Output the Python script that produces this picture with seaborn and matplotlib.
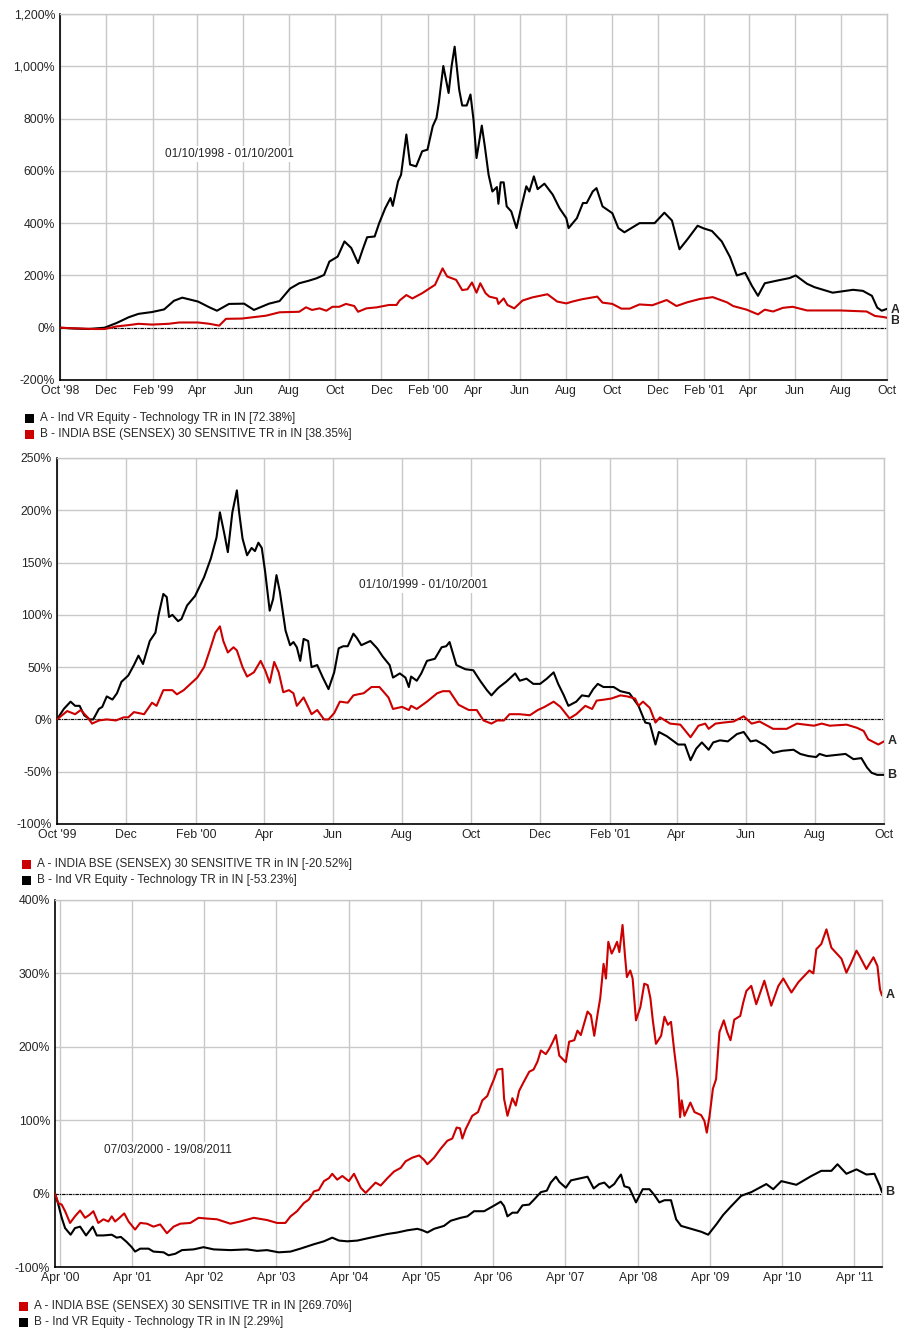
import pandas as pd
import matplotlib
matplotlib.use("Agg")
import matplotlib.pyplot as plt
from matplotlib.patches import Rectangle
from matplotlib.ticker import FuncFormatter
import seaborn as sns

RED = "#cc0000"
BLACK = "#000000"
GRID = "#c8c8c8"
W, H = 899, 1333

# ---------------- panel 1 : 01/10/1998 - 01/10/2001 ----------------
p1_tech_dates = [
    "1998-10-01", "1998-10-19", "1998-11-08", "1998-11-29", "1998-12-15", "1998-12-31", "1999-01-13", "1999-01-31", "1999-02-16", "1999-03-01",
    "1999-03-12", "1999-04-02", "1999-04-17", "1999-04-27", "1999-05-13", "1999-06-02", "1999-06-15", "1999-07-05", "1999-07-19", "1999-08-02",
    "1999-08-14", "1999-08-27", "1999-09-06", "1999-09-16", "1999-09-23", "1999-10-04", "1999-10-13", "1999-10-22", "1999-10-31", "1999-11-06",
    "1999-11-12", "1999-11-22", "1999-11-28", "1999-12-06", "1999-12-13", "1999-12-16", "1999-12-23", "1999-12-27", "2000-01-03", "2000-01-08",
    "2000-01-16", "2000-01-24", "2000-01-31", "2000-02-07", "2000-02-12", "2000-02-15", "2000-02-21", "2000-02-28", "2000-03-03", "2000-03-07",
    "2000-03-13", "2000-03-17", "2000-03-23", "2000-03-28", "2000-04-01", "2000-04-05", "2000-04-12", "2000-04-16", "2000-04-21", "2000-04-26",
    "2000-05-02", "2000-05-04", "2000-05-07", "2000-05-11", "2000-05-15", "2000-05-21", "2000-05-28", "2000-06-02", "2000-06-10", "2000-06-14",
    "2000-06-20", "2000-06-25", "2000-07-04", "2000-07-15", "2000-07-24", "2000-08-02", "2000-08-05", "2000-08-16", "2000-08-24", "2000-08-29",
    "2000-09-06", "2000-09-11", "2000-09-19", "2000-10-02", "2000-10-10", "2000-10-18", "2000-11-07", "2000-11-27", "2000-12-10", "2000-12-20",
    "2000-12-30", "2001-01-10", "2001-01-23", "2001-01-31", "2001-02-11", "2001-02-24", "2001-03-07", "2001-03-16", "2001-03-27", "2001-04-05",
    "2001-04-13", "2001-04-22", "2001-05-08", "2001-05-25", "2001-06-02", "2001-06-17", "2001-06-27", "2001-07-21", "2001-08-17", "2001-08-30",
    "2001-09-11", "2001-09-18", "2001-09-24", "2001-10-01"]
p1_tech = [
    0, -3, -5, 0, 18, 40, 53, 60, 70, 103,
    115, 100, 78, 65, 91, 92, 68, 92, 102, 150,
    170, 180, 189, 202, 253, 272, 330, 305, 247, 298,
    346, 349, 400, 457, 496, 466, 560, 585, 739, 624,
    617, 675, 681, 771, 803, 860, 1001, 898, 1001, 1075,
    911, 850, 850, 892, 796, 649, 773, 694, 585, 521,
    538, 474, 556, 556, 464, 445, 381, 445, 541, 521,
    579, 530, 551, 509, 457, 419, 381, 419, 477, 477,
    521, 534, 464, 438, 381, 365, 400, 400, 440, 410,
    300, 340, 390, 380, 370, 330, 270, 200, 210, 160,
    122, 170, 180, 190, 200, 168, 155, 134, 145, 141,
    122, 77, 65, 72]

p1_bse_dates = [
    "1998-10-01", "1998-10-26", "1998-11-15", "1998-11-29", "1998-12-15", "1998-12-31", "1999-01-13", "1999-01-31", "1999-02-22", "1999-03-08",
    "1999-04-02", "1999-04-17", "1999-04-30", "1999-05-09", "1999-05-30", "1999-07-01", "1999-07-19", "1999-08-14", "1999-08-23", "1999-08-31",
    "1999-09-10", "1999-09-19", "1999-09-27", "1999-10-06", "1999-10-15", "1999-10-26", "1999-10-31", "1999-11-11", "1999-11-25", "1999-12-11",
    "1999-12-21", "1999-12-25", "2000-01-03", "2000-01-11", "2000-01-24", "2000-02-03", "2000-02-10", "2000-02-20", "2000-02-26", "2000-03-09",
    "2000-03-17", "2000-03-24", "2000-03-30", "2000-04-05", "2000-04-10", "2000-04-17", "2000-04-22", "2000-05-02", "2000-05-04", "2000-05-11",
    "2000-05-16", "2000-05-25", "2000-06-05", "2000-06-18", "2000-07-08", "2000-07-21", "2000-08-02", "2000-08-10", "2000-08-23", "2000-09-12",
    "2000-09-19", "2000-10-02", "2000-10-14", "2000-10-25", "2000-11-07", "2000-11-24", "2000-12-13", "2000-12-26", "2001-01-09", "2001-01-26",
    "2001-02-12", "2001-03-03", "2001-03-11", "2001-03-29", "2001-04-13", "2001-04-22", "2001-05-03", "2001-05-16", "2001-05-29", "2001-06-17",
    "2001-07-31", "2001-09-04", "2001-09-15", "2001-09-26", "2001-10-01"]
p1_bse = [
    0, -3, -5, -5, 5, 10, 15, 12, 15, 20,
    20, 15, 8, 34, 35, 46, 59, 61, 78, 68,
    74, 65, 80, 80, 91, 83, 61, 74, 78, 87,
    87, 104, 125, 112, 132, 151, 164, 227, 196, 183,
    144, 147, 173, 134, 170, 132, 119, 112, 91, 112,
    87, 74, 104, 116, 128, 100, 93, 100, 109, 119,
    96, 91, 73, 73, 89, 86, 106, 83, 97, 110,
    117, 97, 83, 69, 51, 69, 62, 76, 80, 66,
    66, 62, 45, 41, 38]

p1_xticks = ["Oct '98", "Dec", "Feb '99", "Apr", "Jun", "Aug", "Oct", "Dec", "Feb '00", "Apr",
             "Jun", "Aug", "Oct", "Dec", "Feb '01", "Apr", "Jun", "Aug", "Oct"]
p1_yticks = [-200, 0, 200, 400, 600, 800, 1000, 1200]

# ---------------- panel 2 : 01/10/1999 - 01/10/2001 (days since start) ----------------
p2_bse_days = [
    0, 9, 16, 21, 27, 31, 37, 44, 52, 59,
    63, 68, 77, 84, 88, 94, 97, 102, 106, 112,
    118, 124, 130, 135, 140, 144, 147, 151, 156, 159,
    164, 168, 174, 180, 184, 188, 192, 196, 200, 205,
    209, 212, 218, 222, 225, 230, 236, 240, 245, 250,
    257, 262, 266, 271, 278, 285, 293, 297, 305, 311,
    313, 318, 327, 336, 341, 347, 355, 364, 371, 377,
    384, 389, 395, 400, 409, 418, 425, 431, 439, 445,
    453, 459, 467, 473, 477, 484, 490, 498, 504, 511,
    514, 518, 524, 529, 533, 542, 551, 560, 567, 573,
    576, 582, 589, 598, 607, 614, 621, 633, 645, 654,
    669, 676, 683, 698, 707, 713, 717, 726, 731]
p2_bse = [
    0, 8, 5, 9, 2, -4, -1, 0, -1, 2,
    2, 7, 5, 16, 13, 28, 28, 28, 24, 28,
    34, 40, 50, 66, 83, 89, 75, 64, 69, 66,
    50, 41, 45, 56, 47, 35, 55, 45, 26, 28,
    25, 13, 21, 12, 5, 9, 0, 0, 6, 17,
    16, 23, 24, 25, 31, 31, 21, 10, 12, 9,
    13, 10, 17, 25, 27, 27, 14, 9, 9, -1,
    -4, -1, -1, 5, 5, 4, 9, 12, 17, 12,
    1, 5, 13, 10, 18, 19, 20, 23, 22, 20,
    13, 17, 11, -3, 2, -4, -5, -17, -6, -4,
    -9, -4, -3, -2, 3, -4, -2, -9, -9, -4,
    -6, -4, -6, -5, -8, -11, -19, -24, -21]

p2_tech_days = [
    0, 6, 12, 16, 20, 24, 29, 32, 37, 40,
    44, 49, 53, 57, 63, 68, 72, 76, 82, 87,
    90, 94, 97, 99, 102, 107, 110, 115, 122, 130,
    136, 141, 144, 148, 151, 155, 159, 161, 164, 168,
    172, 175, 178, 181, 184, 188, 191, 194, 197, 202,
    206, 209, 212, 215, 218, 222, 225, 230, 235, 240,
    245, 249, 253, 257, 262, 265, 269, 277, 283, 288,
    294, 297, 303, 308, 311, 313, 318, 322, 327, 334,
    340, 344, 347, 353, 361, 368, 374, 380, 384, 389,
    391, 397, 405, 409, 415, 421, 427, 433, 439, 443,
    448, 452, 459, 464, 470, 474, 478, 483, 487, 492,
    498, 506, 514, 520, 524, 529, 532, 539, 549, 555,
    560, 565, 570, 576, 580, 586, 593, 601, 607, 613,
    618, 626, 633, 641, 651, 657, 664, 671, 674, 680,
    697, 704, 711, 716, 720, 725, 731]
p2_tech = [
    0, 10, 17, 13, 13, 4, 0, 0, 10, 12,
    22, 19, 25, 36, 42, 52, 61, 53, 75, 83,
    101, 120, 117, 98, 100, 94, 96, 109, 118, 136,
    154, 174, 198, 177, 160, 198, 219, 198, 173, 157,
    164, 161, 169, 164, 141, 104, 115, 138, 122, 85,
    71, 74, 69, 56, 77, 75, 50, 52, 40, 29,
    45, 68, 70, 70, 82, 78, 71, 75, 68, 60,
    52, 40, 44, 40, 31, 41, 37, 44, 56, 58,
    69, 70, 74, 52, 48, 47, 37, 28, 23, 29,
    31, 36, 44, 37, 39, 34, 34, 39, 45, 34,
    23, 13, 17, 23, 22, 29, 34, 31, 31, 31,
    27, 25, 13, -3, -4, -24, -12, -16, -24, -24,
    -39, -28, -22, -29, -22, -20, -21, -14, -12, -21,
    -20, -25, -32, -30, -29, -33, -35, -36, -33, -35,
    -33, -38, -37, -46, -51, -53, -53]

p2_xticks = ["Oct '99", "Dec", "Feb '00", "Apr", "Jun", "Aug", "Oct", "Dec", "Feb '01",
             "Apr", "Jun", "Aug", "Oct"]
p2_yticks = [-100, -50, 0, 50, 100, 150, 200, 250]

# ---------------- panel 3 : 07/03/2000 - 19/08/2011 (days since start) ----------------
p3_bse_days = [
    0, 17, 34, 51, 76, 101, 127, 152, 174, 194,
    219, 245, 270, 287, 304, 326, 350, 372, 405, 431,
    465, 498, 532, 566, 600, 633, 684, 726, 768, 819,
    887, 937, 1005, 1072, 1123, 1165, 1191, 1224, 1258, 1284,
    1309, 1334, 1360, 1385, 1402, 1427, 1453, 1486, 1512, 1546,
    1571, 1596, 1621, 1647, 1681, 1714, 1748, 1773, 1807, 1841,
    1866, 1883, 1917, 1950, 1984, 2009, 2031, 2048, 2060, 2077,
    2110, 2139, 2161, 2186, 2203, 2220, 2237, 2262, 2271, 2288,
    2313, 2330, 2347, 2372, 2398, 2420, 2440, 2457, 2482, 2499,
    2516, 2533, 2550, 2583, 2600, 2626, 2642, 2659, 2693, 2710,
    2727, 2744, 2757, 2774, 2786, 2798, 2815, 2828, 2842, 2854,
    2870, 2882, 2892, 2909, 2921, 2938, 2960, 2980, 2997, 3011,
    3023, 3039, 3065, 3082, 3099, 3115, 3132, 3149, 3161, 3169,
    3183, 3213, 3234, 3267, 3284, 3296, 3310, 3327, 3343, 3360,
    3382, 3399, 3416, 3435, 3465, 3480, 3496, 3521, 3546, 3587,
    3622, 3658, 3683, 3724, 3759, 3815, 3835, 3850, 3875, 3901,
    3926, 3977, 4002, 4027, 4053, 4068, 4103, 4139, 4159, 4172,
    4182]
p3_bse = [
    0, -13, -15, -24, -40, -31, -23, -33, -29, -24,
    -40, -35, -38, -31, -38, -33, -27, -38, -49, -40,
    -41, -45, -42, -54, -45, -41, -40, -33, -34, -35,
    -41, -38, -33, -36, -40, -40, -31, -24, -13, -8,
    3, 5, 17, 21, 27, 19, 24, 17, 27, 8,
    1, 8, 15, 11, 21, 30, 35, 44, 49, 52,
    46, 40, 49, 61, 72, 75, 90, 89, 75, 88,
    106, 111, 127, 133, 145, 156, 169, 170, 129, 106,
    130, 120, 140, 153, 166, 169, 180, 195, 190, 197,
    206, 216, 188, 179, 207, 209, 222, 216, 248, 243,
    215, 245, 266, 313, 293, 343, 327, 334, 343, 329,
    366, 325, 295, 304, 293, 236, 254, 286, 284, 266,
    236, 204, 215, 241, 230, 234, 193, 156, 104, 127,
    106, 124, 111, 107, 99, 83, 106, 143, 156, 220,
    236, 220, 209, 237, 242, 260, 276, 283, 258, 290,
    256, 283, 293, 274, 288, 304, 300, 333, 340, 360,
    335, 320, 301, 315, 331, 324, 306, 322, 310, 278,
    270]

p3_tech_days = [
    0, 17, 34, 51, 79, 101, 127, 157, 191, 211,
    245, 287, 312, 333, 363, 388, 405, 431, 473, 498,
    549, 574, 608, 642, 701, 751, 802, 887, 971, 1022,
    1072, 1131, 1191, 1241, 1309, 1360, 1402, 1436, 1478, 1529,
    1579, 1630, 1681, 1731, 1782, 1833, 1858, 1883, 1917, 1967,
    2001, 2051, 2085, 2119, 2170, 2203, 2229, 2254, 2271, 2288,
    2313, 2338, 2364, 2398, 2423, 2457, 2487, 2507, 2533, 2550,
    2583, 2609, 2659, 2693, 2724, 2752, 2778, 2803, 2828, 2845,
    2862, 2879, 2904, 2938, 2972, 3006, 3031, 3056, 3082, 3115,
    3141, 3166, 3217, 3268, 3303, 3344, 3379, 3420, 3470, 3521,
    3597, 3632, 3673, 3749, 3825, 3875, 3926, 3957, 4002, 4053,
    4103, 4144, 4172, 4182]
p3_tech = [
    0, -15, -33, -47, -56, -47, -45, -57, -45, -57,
    -57, -56, -60, -59, -66, -73, -79, -75, -75, -79,
    -80, -84, -82, -77, -76, -73, -76, -77, -76, -78,
    -77, -80, -79, -75, -69, -65, -60, -64, -65, -64,
    -61, -58, -55, -53, -50, -48, -50, -53, -48, -44,
    -37, -33, -31, -24, -24, -19, -15, -11, -17, -31,
    -26, -26, -16, -15, -8, 2, 4, 15, 23, 16,
    8, 18, 21, 23, 7, 13, 15, 8, 13, 20,
    26, 10, 8, -12, 6, 6, -2, -12, -9, -9,
    -35, -44, -48, -52, -56, -42, -29, -17, -3, 2,
    13, 6, 17, 12, 24, 31, 31, 40, 27, 33,
    26, 27, 10, 2]

p3_xticks = ["Apr '00", "Apr '01", "Apr '02", "Apr '03", "Apr '04", "Apr '05",
             "Apr '06", "Apr '07", "Apr '08", "Apr '09", "Apr '10", "Apr '11"]
p3_yticks = [-100, 0, 100, 200, 300, 400]

TECH = "Ind VR Equity - Technology TR in IN"
BSE = "INDIA BSE (SENSEX) 30 SENSITIVE TR in IN"

sns.set_style("white")
plt.rcParams["font.family"] = ["Liberation Sans", "DejaVu Sans"]
plt.rcParams["font.size"] = 8.5

fig = plt.figure(figsize=(W / 100, H / 100), dpi=100)


def px_axes(left, top, right, bottom):
    return fig.add_axes([left / W, 1 - bottom / H, (right - left) / W, (bottom - top) / H])


def pct(v, pos):
    return f"{v:,.0f}%"


def style(ax, xlim, ticks, tick_labels, yticks):
    ax.set_xlim(xlim)
    ax.set_ylim(yticks[0], yticks[-1])
    ax.set_yticks(yticks)
    ax.yaxis.set_major_formatter(FuncFormatter(pct))
    ax.set_xticks(ticks)
    ax.set_xticklabels(tick_labels)
    ax.grid(True, color=GRID, lw=1)
    ax.set_axisbelow(True)
    for s in ("top", "right"):
        ax.spines[s].set_color(GRID)
        ax.spines[s].set_linewidth(1)
    for s in ("left", "bottom"):
        ax.spines[s].set_color("black")
        ax.spines[s].set_linewidth(1.2)
    ax.tick_params(length=3, width=1, color="black", pad=0.5, labelsize=8.8)
    ax.axhline(0, color="black", lw=0.8, ls=(0, (3, 1, 1, 1)), zorder=1.5)
    ax.set_xlabel("")
    ax.set_ylabel("")


def draw(ax, x, y, color, letter, dy):
    sns.lineplot(x=x, y=y, ax=ax, color=color, lw=1.5, estimator=None, legend=False, zorder=3)
    ax.annotate(letter, xy=(x.iloc[-1], y[-1]), xytext=(2.5, dy), textcoords="offset points",
                va="center", ha="left", fontsize=9, fontweight="bold", annotation_clip=False)


def period(ax, fx, fy, text):
    ax.text(fx, fy, text, transform=ax.transAxes, fontsize=8.5, va="center", ha="left",
            bbox=dict(facecolor="white", edgecolor="none", pad=1.5), zorder=2)


def legend_rows(x_sq, y_first, rows):
    for i, (color, text) in enumerate(rows):
        yc = y_first + i * 16.5
        fig.add_artist(Rectangle((x_sq / W, 1 - (yc + 4.5) / H), 9 / W, 9 / H,
                                 transform=fig.transFigure, facecolor=color, edgecolor="none"))
        fig.text((x_sq + 15) / W, 1 - yc / H, text, va="center", ha="left", fontsize=8.5)


# panel 1
ax1 = px_axes(60, 14, 887, 380)
x = pd.Series(pd.to_datetime(p1_tech_dates))
draw(ax1, x, p1_tech, BLACK, "A", -1)
x = pd.Series(pd.to_datetime(p1_bse_dates))
draw(ax1, x, p1_bse, RED, "B", -2.5)
style(ax1, (pd.Timestamp("1998-10-01"), pd.Timestamp("2001-10-01")),
      pd.date_range("1998-10-01", "2001-10-01", freq="2MS"), p1_xticks, p1_yticks)
period(ax1, 0.127, 0.617, "01/10/1998 - 01/10/2001")
legend_rows(25, 418, [(BLACK, "A - " + TECH + " [72.38%]"), (RED, "B - " + BSE + " [38.35%]")])

# panel 2
start2 = pd.Timestamp("1999-10-01")
ax2 = px_axes(57, 458, 884, 824)
x = pd.Series(start2 + pd.to_timedelta(p2_tech_days, unit="D"))
draw(ax2, x, p2_tech, BLACK, "B", 0)
x = pd.Series(start2 + pd.to_timedelta(p2_bse_days, unit="D"))
draw(ax2, x, p2_bse, RED, "A", 0)
style(ax2, (start2, pd.Timestamp("2001-10-01")),
      pd.date_range("1999-10-01", "2001-10-01", freq="2MS"), p2_xticks, p2_yticks)
period(ax2, 0.365, 0.653, "01/10/1999 - 01/10/2001")
legend_rows(22, 864, [(RED, "A - " + BSE + " [-20.52%]"), (BLACK, "B - " + TECH + " [-53.23%]")])

# panel 3
start3 = pd.Timestamp("2000-03-07")
ax3 = px_axes(55, 900, 882, 1267)
x = pd.Series(start3 + pd.to_timedelta(p3_tech_days, unit="D"))
draw(ax3, x, p3_tech, BLACK, "B", 0)
x = pd.Series(start3 + pd.to_timedelta(p3_bse_days, unit="D"))
draw(ax3, x, p3_bse, RED, "A", 0)
style(ax3, (start3, pd.Timestamp("2011-08-19")),
      pd.date_range("2000-04-01", "2011-04-01", freq="12MS"), p3_xticks, p3_yticks)
period(ax3, 0.059, 0.319, "07/03/2000 - 19/08/2011")
legend_rows(19, 1306, [(RED, "A - " + BSE + " [269.70%]"), (BLACK, "B - " + TECH + " [2.29%]")])

fig.savefig("out.png", dpi=100, facecolor="white")
